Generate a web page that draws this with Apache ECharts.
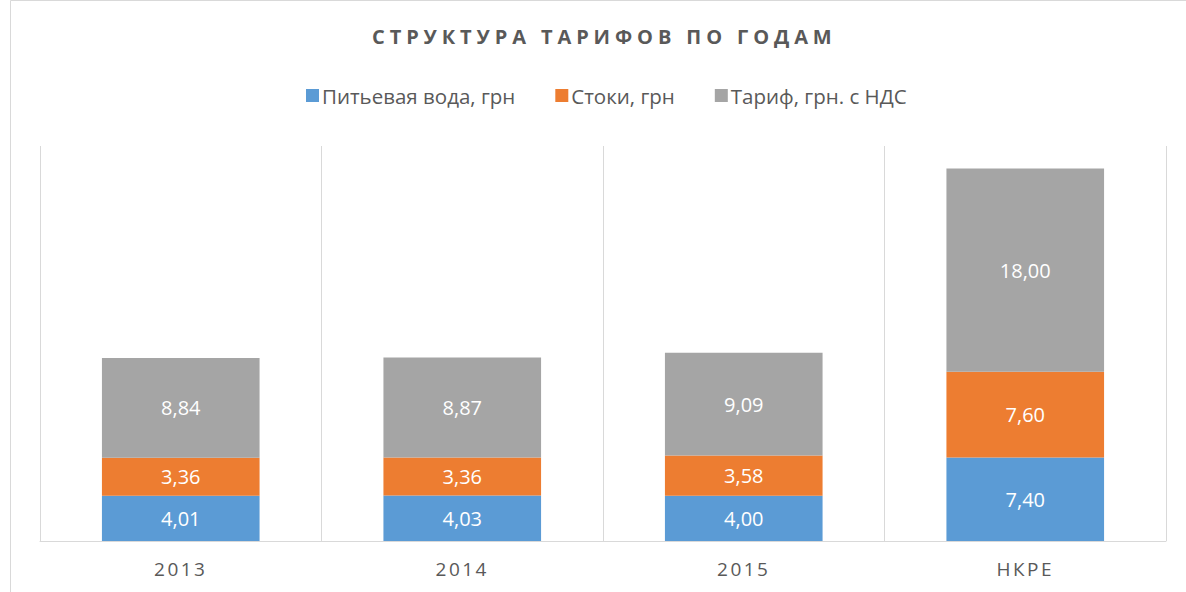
<!DOCTYPE html>
<html>
<head>
<meta charset="utf-8">
<script src="https://cdn.jsdelivr.net/npm/echarts@6/dist/echarts.min.js"></script>
<style>
html, body { margin: 0; padding: 0; background: #fff; }
#main { width: 1186px; height: 592px; }
</style>
</head>
<body>
<div id="main"></div>
<script>
// данные
var categories = ['2013', '2014', '2015', 'НКРЕ'];
var seriesNames = ['Питьевая вода, грн', 'Стоки, грн', 'Тариф, грн. с НДС'];
var water = [4.01, 4.03, 4.00, 7.40];
var stoki = [3.36, 3.36, 3.58, 7.60];
var tariff = [8.84, 8.87, 9.09, 18.00];
var colors = ['#5B9BD5', '#ED7D31', '#A5A5A5'];
var titleText = 'СТРУКТУРА ТАРИФОВ ПО ГОДАМ';

var myChart = echarts.init(document.getElementById('main'), null, { renderer: 'svg' });

function makeSeries(name, data, color) {
    return {
        name: name,
        type: 'bar',
        stack: 'total',
        barWidth: '56%',
        data: data,
        itemStyle: { color: color },
        label: {
            show: true,
            position: 'inside',
            color: '#ffffff',
            fontSize: 20,
            fontFamily: 'Open Sans',
            formatter: function (p) {
                return p.value.toFixed(2).replace('.', ',');
            }
        }
    };
}

var option = {
    animation: false,
    color: colors,
    title: {
        text: titleText,
        left: 372,
        top: 26,
        padding: 0,
        textStyle: {
            fontFamily: 'Open Sans',
            fontSize: 20,
            fontWeight: 'bold',
            color: '#595959'
        }
    },
    legend: {
        top: 80,
        left: 301,
        itemWidth: 13,
        itemHeight: 13,
        itemGap: 40,
        icon: 'rect',
        textStyle: {
            fontFamily: 'Open Sans',
            fontSize: 20.5,
            color: '#595959',
            padding: [0, 0, 0, -2]
        },
        data: seriesNames
    },
    grid: { left: 40, right: 20, top: 146, bottom: 51 },
    xAxis: {
        type: 'category',
        data: categories,
        axisTick: { show: false },
        axisLine: { lineStyle: { color: '#d9d9d9', width: 1 } },
        splitLine: { show: true, lineStyle: { color: '#d9d9d9' } },
        axisLabel: {
            margin: 18,
            fontFamily: 'Open Sans',
            fontSize: 19,
            color: '#595959'
        }
    },
    yAxis: {
        type: 'value',
        min: 0,
        max: 35,
        show: false
    },
    graphic: [{
        type: 'rect',
        shape: { x: 10.5, y: 0.5, width: 1200, height: 620 },
        style: { fill: 'none', stroke: '#d9d9d9', lineWidth: 1 },
        silent: true
    }],
    series: [
        makeSeries(seriesNames[0], water, colors[0]),
        makeSeries(seriesNames[1], stoki, colors[1]),
        makeSeries(seriesNames[2], tariff, colors[2])
    ]
};

myChart.setOption(option);

// разрядка заголовка и подписей оси, как в Excel
function spaceText() {
    var texts = document.querySelectorAll('#main text');
    for (var i = 0; i < texts.length; i++) {
        var t = texts[i].textContent;
        if (t == titleText) texts[i].style.letterSpacing = '4.9px';
        else if (categories.indexOf(t) != -1) texts[i].style.letterSpacing = '2.5px';
    }
}
spaceText();
myChart.on('finished', spaceText);
</script>
</body>
</html>
